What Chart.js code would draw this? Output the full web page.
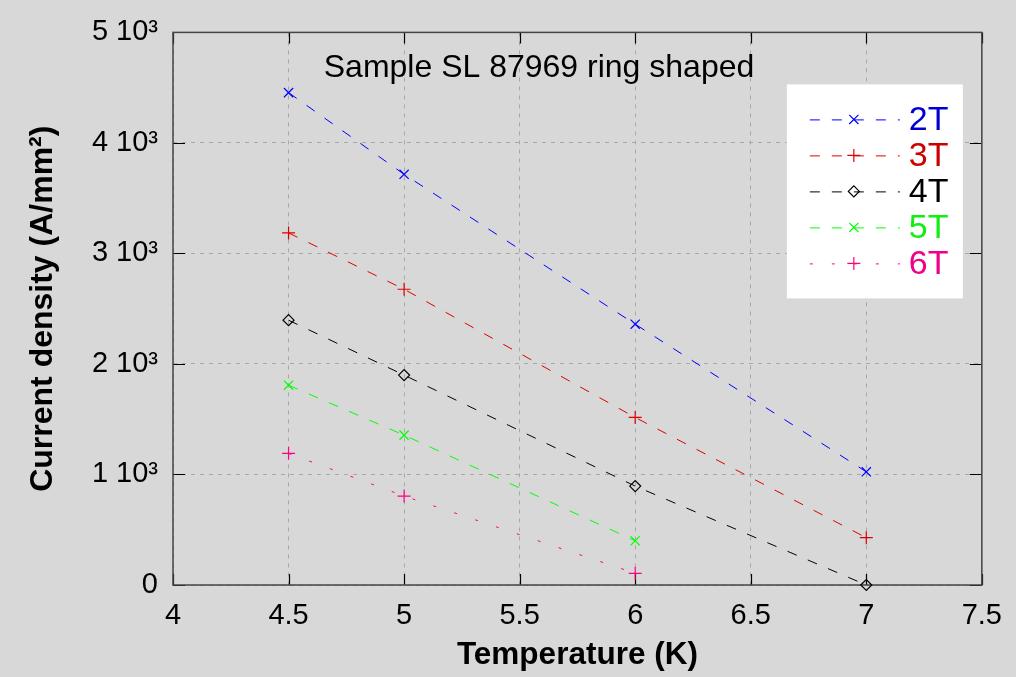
<!DOCTYPE html>
<html>
<head>
<meta charset="utf-8">
<script src="https://cdn.jsdelivr.net/npm/chart.js@4/dist/chart.umd.min.js"></script>
<style>
html,body{margin:0;padding:0;background:#d8d8d8;}
#wrap{width:1016px;height:677px;}
</style>
</head>
<body>
<div id="wrap"><canvas id="c" width="1016" height="677"></canvas></div>
<script>
// ---- data ----
const temperatures = [4.5, 5, 6, 7];
const temperatures5T = [4.5, 5, 6];
const seriesNames = ['2T', '3T', '4T', '5T', '6T'];
const j2T = [4455, 3716, 2360, 1024];
const j3T = [3186, 2676, 1516, 428];
const j4T = [2396, 1899, 895, 0];
const j5T = [1808, 1356, 400];
const j6T = [1191, 805, 106];
const xTicks = [4, 4.5, 5, 5.5, 6, 6.5, 7, 7.5];
const yTicks = [0, 1000, 2000, 3000, 4000, 5000];
const chartTitle = 'Sample SL 87969 ring shaped';

const FONT = "'Liberation Sans', Arial, Helvetica, sans-serif";

function pts(xs, ys){ return ys.map((y,i)=>({x:xs[i], y:y})); }

const styles = [
  {color:'#0000ff', text:'#0000d0', style:'crossRot', r:6.5, dash:[10,12], data:pts(temperatures,j2T)},
  {color:'#dd0000', text:'#cc0000', style:'cross', r:6.5, dash:[10,12], data:pts(temperatures,j3T)},
  {color:'#000000', text:'#000000', style:'rectRot', r:5.5, dash:[10,12], data:pts(temperatures,j4T)},
  {color:'#00ff00', text:'#11ee11', style:'crossRot', r:6.5, dash:[10,12], data:pts(temperatures5T,j5T)},
  {color:'#ff0080', text:'#ee0088', style:'cross', r:6.5, dash:[3,19], data:pts(temperatures5T,j6T)}
];

const datasets = styles.map((s,i)=>({
  label: seriesNames[i],
  data: s.data,
  showLine: true,
  borderColor: s.color,
  backgroundColor: 'rgba(0,0,0,0)',
  borderWidth: 1,
  borderDash: s.dash,
  pointStyle: s.style,
  pointRadius: s.r,
  pointHoverRadius: s.r,
  pointBorderColor: s.color,
  pointBackgroundColor: 'rgba(0,0,0,0)',
  pointBorderWidth: 1.2,
  tension: 0,
  clip: false,
  _textColor: s.text
}));

const decor = {
  id: 'decor',
  beforeDraw(chart){
    const ctx = chart.ctx;
    ctx.save();
    ctx.fillStyle = '#d8d8d8';
    ctx.fillRect(0,0,chart.width,chart.height);
    ctx.restore();
  },
  beforeDatasetsDraw(chart){
    const ctx = chart.ctx, a = chart.chartArea;
    const xs = chart.scales.x, ys = chart.scales.y;
    ctx.save();
    ctx.strokeStyle = '#000';
    ctx.lineWidth = 1.2;
    ctx.beginPath();
    xTicks.forEach(v=>{
      const px = Math.round(xs.getPixelForValue(v))+0.5;
      ctx.moveTo(px, a.bottom); ctx.lineTo(px, a.bottom-11);
      ctx.moveTo(px, a.top); ctx.lineTo(px, a.top+11);
    });
    yTicks.forEach(v=>{
      const py = Math.round(ys.getPixelForValue(v))+0.5;
      ctx.moveTo(a.left, py); ctx.lineTo(a.left+12, py);
      ctx.moveTo(a.right, py); ctx.lineTo(a.right-12, py);
    });
    ctx.stroke();
    ctx.strokeStyle = '#444';
    ctx.lineWidth = 1.5;
    ctx.strokeRect(a.left, a.top, a.right-a.left, a.bottom-a.top);
    // title
    ctx.fillStyle = '#000';
    ctx.font = "32px " + FONT;
    ctx.textAlign = 'center';
    ctx.textBaseline = 'alphabetic';
    ctx.fillText(chartTitle, a.left + 366, a.top + 45);
    ctx.restore();
  },
  afterDatasetsDraw(chart){
    const ctx = chart.ctx, a = chart.chartArea;
    const bx = a.right - 195, by = a.top + 52, bw = 176, bh = 214;
    ctx.save();
    ctx.fillStyle = '#ffffff';
    ctx.fillRect(bx, by, bw, bh);
    chart.data.datasets.forEach((ds, i)=>{
      const y = by + 35 + i*36;
      ctx.strokeStyle = ds.borderColor;
      ctx.lineWidth = 1;
      ctx.setLineDash(i === 4 ? [3,19] : [10,12]);
      ctx.lineDashOffset = -2;
      ctx.beginPath();
      ctx.moveTo(bx + 21, y + 0.5);
      ctx.lineTo(bx + 113, y + 0.5);
      ctx.stroke();
      ctx.setLineDash([]);
      ctx.strokeStyle = ds.borderColor;
      ctx.lineWidth = 1.2;
      ctx.fillStyle = 'rgba(0,0,0,0)';
      Chart.helpers.drawPoint(ctx, {pointStyle: ds.pointStyle, radius: ds.pointRadius, rotation: 0, borderWidth: 1.2}, bx + 67, y);
      ctx.fillStyle = ds._textColor;
      ctx.font = "34px " + FONT;
      ctx.textAlign = 'left';
      ctx.textBaseline = 'middle';
      ctx.fillText(ds.label, bx + 122, y + 1);
    });
    ctx.restore();
  }
};

new Chart(document.getElementById('c'), {
  type: 'scatter',
  data: { datasets },
  options: {
    responsive: false,
    animation: false,
    devicePixelRatio: 1,
    layout: { padding: { top: 32, right: 32, left: 0, bottom: 0 } },
    plugins: { legend: { display: false }, tooltip: { enabled: false } },
    scales: {
      x: {
        type: 'linear',
        min: 4, max: 7.5,
        afterBuildTicks: s => { s.ticks = xTicks.map(v=>({value:v})); },
        afterFit: s => { s.height = 92; },
        border: { display: false, dash: [4,5] },
        grid: { color: '#a8a8a8', lineWidth: 1, drawTicks: false },
        ticks: { color: '#000', font: { family: FONT, size: 29 }, padding: 14, maxRotation: 0,
                 callback: v => String(v) },
        title: { display: true, text: 'Temperature (K)', color: '#000',
                 font: { family: FONT, size: 31.5, weight: 'bold' }, padding: { top: 0, bottom: 3 } }
      },
      y: {
        type: 'linear',
        min: 0, max: 5000,
        afterBuildTicks: s => { s.ticks = yTicks.map(v=>({value:v})); },
        afterFit: s => { s.width = 173; },
        border: { display: false, dash: [4,5] },
        grid: { color: '#a8a8a8', lineWidth: 1, drawTicks: false },
        ticks: { color: '#000', font: { family: FONT, size: 29 }, padding: 15,
                 callback: v => v === 0 ? '0' : (v/1000) + ' 10\u00B3' },
        title: { display: true, text: 'Current density (A/mm\u00B2)', color: '#000',
                 font: { family: FONT, size: 32, weight: 'bold' }, padding: { top: 24, bottom: 0 } }
      }
    }
  },
  plugins: [decor]
});
</script>
</body>
</html>
